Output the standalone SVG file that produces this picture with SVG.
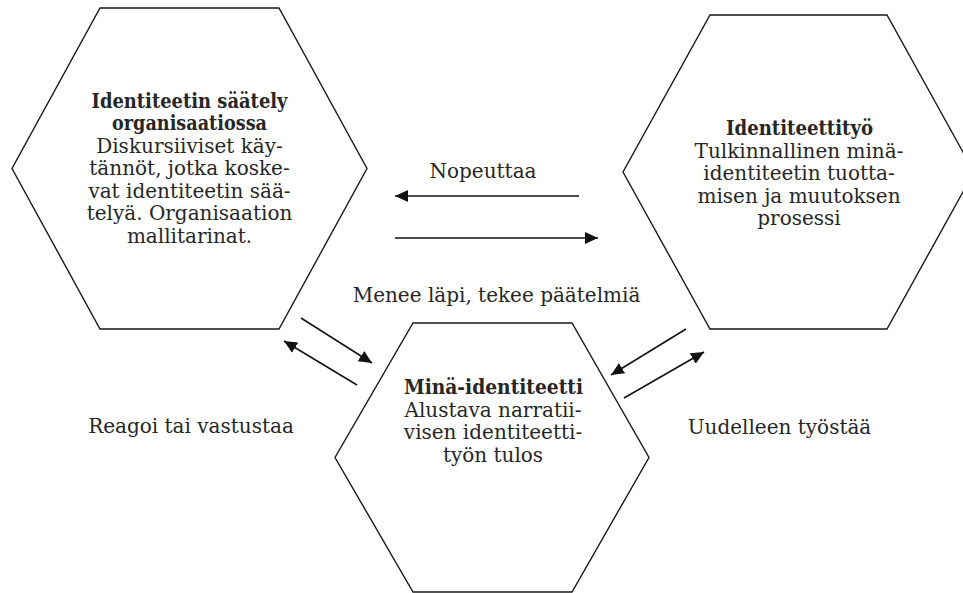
<svg xmlns="http://www.w3.org/2000/svg" width="963" height="593" viewBox="0 0 963 593">
  <style>
    .hex { fill: #ffffff; stroke: #1a1a1a; stroke-width: 1.4; stroke-linejoin: miter; }
    .conn { stroke: #111111; stroke-width: 1.5; fill: none; marker-end: url(#arrow); }
    text { font-family: "DejaVu Serif", "Liberation Serif", serif; font-size: 20px; fill: #262626; text-anchor: middle; }
    .b { font-weight: bold; }
  </style>
  <defs>
    <marker id="arrow" markerUnits="userSpaceOnUse" markerWidth="14" markerHeight="13" refX="13" refY="6" orient="auto" viewBox="0 0 14 12">
      <path d="M0,0 L13,6 L0,12 z" fill="#111111"/>
    </marker>
  </defs>
  <rect width="963" height="593" fill="#ffffff"/>

  <!-- Identity regulation node -->
  <g id="node-regulation">
    <polygon class="hex" points="100,8 279,8 367,168.5 279,329 100,329 12,168.5"/>
    <text x="189.5" y="107.5" class="b" textLength="196" lengthAdjust="spacingAndGlyphs">Identiteetin säätely</text>
    <text x="189.5" y="130" class="b" textLength="155" lengthAdjust="spacingAndGlyphs">organisaatiossa</text>
    <text x="189.5" y="152.5">Diskursiiviset käy-</text>
    <text x="189.5" y="175">tännöt, jotka koske-</text>
    <text x="189.5" y="197.5">vat identiteetin sää-</text>
    <text x="189.5" y="220">telyä. Organisaation</text>
    <text x="189.5" y="242.5">mallitarinat.</text>
  </g>

  <!-- Identity work node -->
  <g id="node-work">
    <polygon class="hex" points="710,15 887,15 974,172 887,329 710,329 623,172"/>
    <text x="799.5" y="135" class="b" textLength="147" lengthAdjust="spacingAndGlyphs">Identiteettityö</text>
    <text x="799" y="157.5">Tulkinnallinen minä-</text>
    <text x="799" y="180">identiteetin tuotta-</text>
    <text x="799" y="202.5">misen ja muutoksen</text>
    <text x="799" y="225">prosessi</text>
  </g>

  <!-- Self-identity node -->
  <g id="node-self">
    <polygon class="hex" points="413,323 572,323 649,457.5 572,592 413,592 335,457.5"/>
    <text x="493.5" y="394" class="b" textLength="179" lengthAdjust="spacingAndGlyphs">Minä-identiteetti</text>
    <text x="493" y="416.5">Alustava narratii-</text>
    <text x="493" y="439">visen identiteetti-</text>
    <text x="493" y="461.5">työn tulos</text>
  </g>

  <!-- Connectors -->
  <g id="connectors">
    <line class="conn" x1="579" y1="196" x2="395" y2="196"/>
    <line class="conn" x1="395" y1="238" x2="598" y2="238"/>
    <line class="conn" x1="301" y1="318" x2="372" y2="363"/>
    <line class="conn" x1="357" y1="385" x2="284" y2="341"/>
    <line class="conn" x1="686" y1="329" x2="611" y2="375"/>
    <line class="conn" x1="624" y1="398" x2="704" y2="352"/>
  </g>

  <!-- Connector labels -->
  <g id="labels">
    <text x="483" y="178">Nopeuttaa</text>
    <text x="496.5" y="302">Menee läpi, tekee päätelmiä</text>
    <text x="191" y="433">Reagoi tai vastustaa</text>
    <text x="779.5" y="434">Uudelleen työstää</text>
  </g>
</svg>
